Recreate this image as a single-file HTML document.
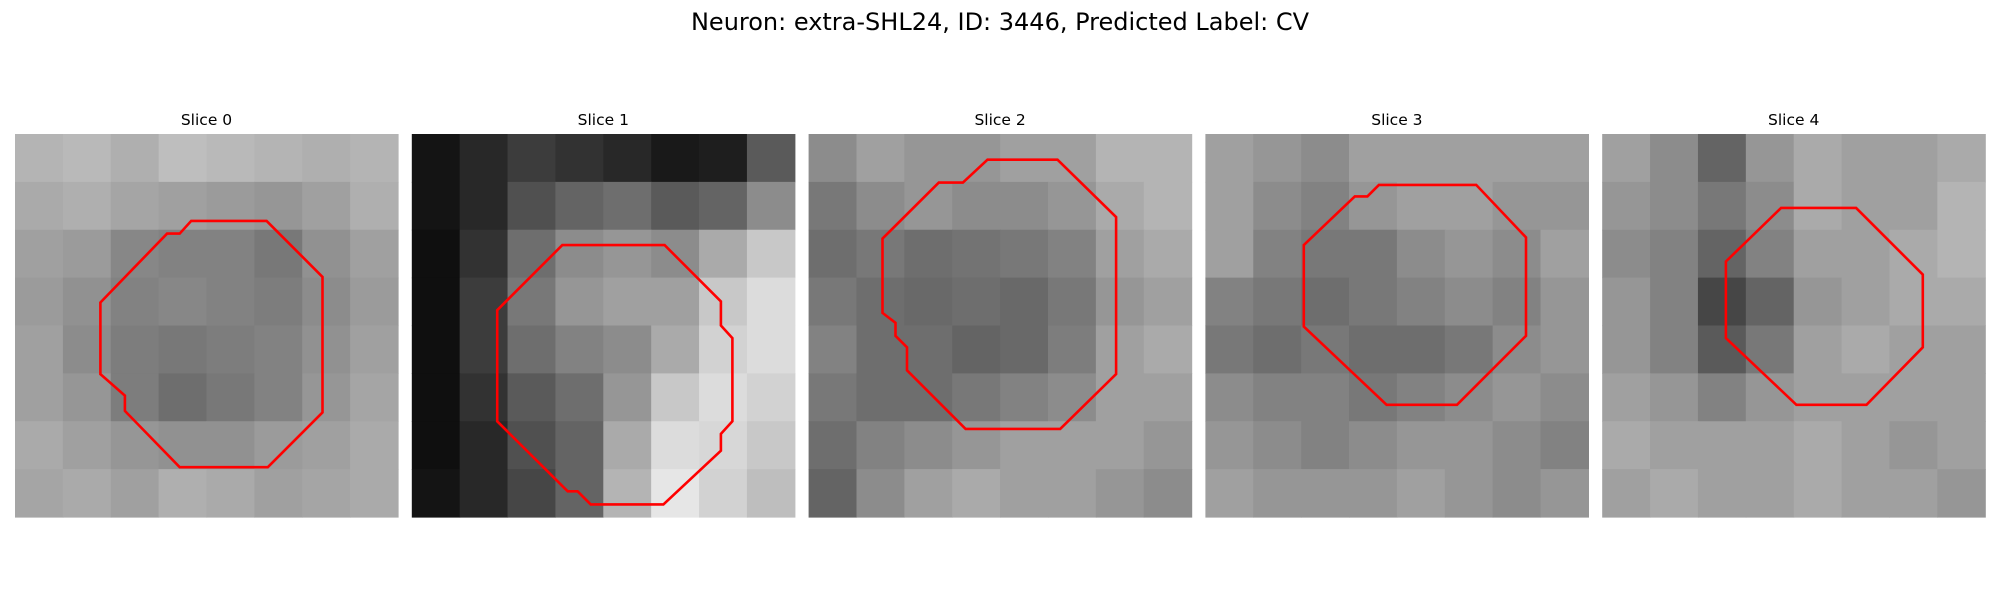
<!DOCTYPE html>
<html><head><meta charset="utf-8"><style>
html,body{margin:0;padding:0;background:#fff;}
#root{position:relative;width:2000px;height:600px;overflow:hidden;font-family:"Liberation Sans","DejaVu Sans",sans-serif;}
</style></head><body>
<div id="root">
<svg id="chart" width="2000" height="600" xmlns="http://www.w3.org/2000/svg">
<text x="1000" y="30" text-anchor="middle" font-size="24" fill="#000" font-family="DejaVu Sans, sans-serif">Neuron: extra-SHL24, ID: 3446, Predicted Label: CV</text>
</svg>
</div>
<script>
const sliceTitles = ["Slice 0","Slice 1","Slice 2","Slice 3","Slice 4"];
const grid0 = [[180,185,175,190,185,180,175,180],[170,175,165,160,155,150,160,175],[160,155,135,130,130,120,145,160],[155,145,130,135,130,125,140,155],[160,140,125,120,125,130,145,160],[160,150,125,110,120,130,150,165],[170,160,150,145,145,155,160,170],[165,170,160,175,170,160,165,170]];
const grid1 = [[20,40,60,50,40,25,30,90],[20,40,80,100,110,90,100,140],[15,50,110,140,150,140,170,200],[15,60,120,150,160,160,200,220],[15,60,110,130,140,170,210,220],[15,50,90,110,150,200,220,210],[15,40,80,100,170,220,215,200],[20,40,70,100,180,230,210,190]];
const grid2 = [[140,160,150,150,160,160,180,180],[120,140,150,140,140,150,170,180],[110,120,110,115,120,130,160,170],[120,110,105,110,105,120,150,160],[130,110,110,100,105,125,160,170],[120,110,110,120,130,140,160,160],[110,130,140,150,160,160,160,150],[100,140,160,170,160,160,150,140]];
const grid3 = [[160,150,140,160,160,160,160,160],[160,140,130,150,160,160,150,150],[160,130,120,120,140,150,140,160],[130,120,110,120,130,140,130,150],[120,110,120,110,110,120,140,150],[140,130,130,120,130,140,150,140],[150,140,130,140,150,150,140,130],[160,150,150,150,160,150,140,150]];
const grid4 = [[160,140,100,150,170,160,160,170],[150,140,120,140,170,160,160,180],[140,130,100,130,160,160,170,180],[150,130,70,100,150,160,170,170],[150,130,90,120,160,170,160,160],[160,150,130,150,160,160,160,160],[170,160,160,160,170,160,150,160],[160,170,160,160,170,160,160,150]];
const grids = [grid0,grid1,grid2,grid3,grid4];
const contour0 = [[0.223,0.44],[0.397,0.26],[0.43,0.26],[0.46,0.227],[0.657,0.227],[0.803,0.373],[0.803,0.727],[0.66,0.87],[0.43,0.87],[0.287,0.723],[0.287,0.683],[0.223,0.627]];
const contour1 = [[0.223,0.46],[0.393,0.29],[0.66,0.29],[0.807,0.437],[0.807,0.5],[0.837,0.533],[0.837,0.75],[0.807,0.783],[0.807,0.827],[0.657,0.967],[0.467,0.967],[0.433,0.933],[0.407,0.933],[0.223,0.75]];
const contour2 = [[0.193,0.273],[0.34,0.127],[0.403,0.127],[0.467,0.067],[0.65,0.067],[0.803,0.217],[0.803,0.627],[0.657,0.77],[0.41,0.77],[0.257,0.617],[0.257,0.557],[0.227,0.527],[0.227,0.493],[0.193,0.467]];
const contour3 = [[0.257,0.29],[0.39,0.163],[0.423,0.163],[0.453,0.133],[0.707,0.133],[0.837,0.27],[0.837,0.527],[0.657,0.707],[0.473,0.707],[0.257,0.503]];
const contour4 = [[0.323,0.333],[0.467,0.193],[0.663,0.193],[0.837,0.367],[0.837,0.557],[0.69,0.707],[0.507,0.707],[0.323,0.533]];
const contours = [contour0,contour1,contour2,contour3,contour4];

const NS="http://www.w3.org/2000/svg";
const svg=document.getElementById('chart');
const panelX0=15, panelStep=396.8, panelSize=383, panelY=134;
function px(i,f){return panelX0+i*panelStep+f*panelSize;}
function py(f){return panelY+f*panelSize;}
grids.forEach((g,i)=>{
  const grp=document.createElementNS(NS,'g');
  
  
  svg.appendChild(grp);
  const n=g.length;
  g.forEach((row,r)=>row.forEach((v,c)=>{
    const rc=document.createElementNS(NS,'rect');
    rc.setAttribute('x',px(i,c/n));rc.setAttribute('y',py(r/n));
    rc.setAttribute('width',panelSize/n+0.6);rc.setAttribute('height',panelSize/n+0.6);
    rc.setAttribute('fill','rgb('+v+','+v+','+v+')');
    
    
    grp.appendChild(rc);
  }));
  const t=document.createElementNS(NS,'text');
  t.setAttribute('x',px(i,0.5));t.setAttribute('y',125);
  t.setAttribute('text-anchor','middle');t.setAttribute('font-size','15.5');
  t.setAttribute('font-family','DejaVu Sans, sans-serif');
  t.textContent=sliceTitles[i];
  
  
  grp.appendChild(t);
  const pg=document.createElementNS(NS,'polygon');
  pg.setAttribute('points',contours[i].map(p=>px(i,p[0]).toFixed(1)+','+py(p[1]).toFixed(1)).join(' '));
  pg.setAttribute('fill','none');pg.setAttribute('stroke','#ff0000');pg.setAttribute('stroke-width','2.6');
  
  
  grp.appendChild(pg);
});
</script>
</body></html>
